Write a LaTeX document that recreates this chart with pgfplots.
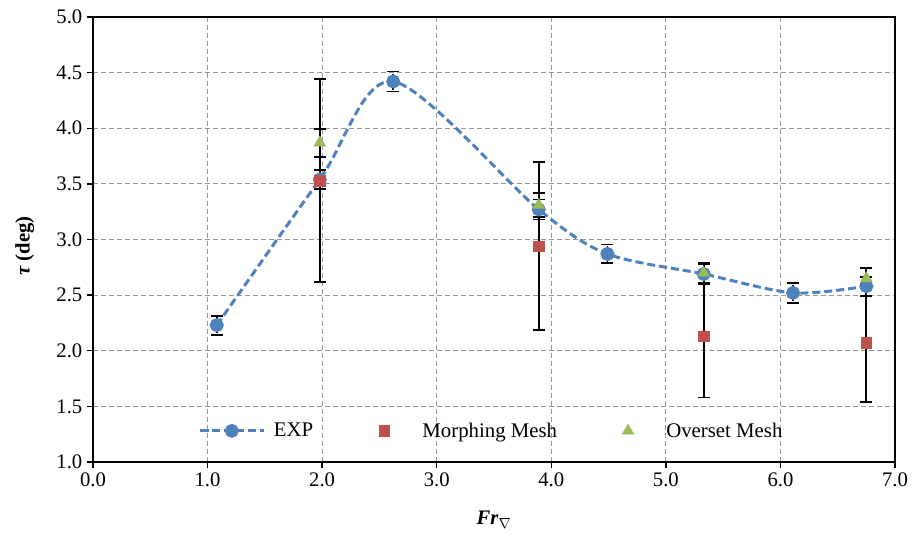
\documentclass[border=0pt]{standalone}
\usepackage{fontspec}
\setmainfont{Liberation Serif}
\usepackage{pgfplots}
\pgfplotsset{compat=1.18}
\definecolor{expblue}{RGB}{79,129,189}
\definecolor{morphred}{RGB}{192,80,77}
\definecolor{overgreen}{RGB}{155,187,89}
\definecolor{gridgray}{RGB}{150,150,150}
\pgfplotsset{
  longline legend/.style={legend image code/.code={%
    \draw[mark repeat=2,mark phase=2,##1] plot coordinates {(0pt,0pt)(24pt,0pt)(48pt,0pt)};}},
  markonly legend/.style={legend image code/.code={%
    \path (0pt,0pt) (48pt,0pt);
    \draw[mark repeat=2,mark phase=2,##1] plot coordinates {(4pt,0pt)(26pt,0pt)(48pt,0pt)};}},
}

\begin{document}
\begin{tikzpicture}
\begin{axis}[
  name=ax,
  scale only axis,
  width=601.5pt, height=333.75pt,
  xmin=0, xmax=7, ymin=1, ymax=5,
  xtick={0,1,...,7}, ytick={1,1.5,...,5},
  xticklabel style={/pgf/number format/.cd,fixed,fixed zerofill,precision=1},
  yticklabel style={/pgf/number format/.cd,fixed,fixed zerofill,precision=1},
  /pgf/number format/assume math mode=true,
  ticklabel style={font=\fontsize{15.5}{18}\selectfont},
  tick align=outside, tick pos=left,
  major tick length=4.5pt,
  tick style={black, line width=1pt},
  axis line style={black, line width=1.2pt},
  grid=major,
  grid style={gridgray, line width=0.8pt, dash pattern=on 3.75pt off 2.25pt},
  xlabel={\textbf{\textit{Fr}}$_{\nabla}$},
  ylabel={\textbf{\textit{τ} (deg)}},
  label style={font=\fontsize{15.5}{18}\selectfont},
  xlabel style={at={(axis description cs:0.5,-0.13)}, anchor=center},
  ylabel style={at={(axis description cs:-0.085,0.485)}, anchor=center},
  error bars/error bar style={black, line width=1.4pt},
  error bars/error mark options={black, line width=1.4pt, mark size=4.5pt, rotate=90},
  legend columns=3,
  legend style={at={(0.131,0.07)}, anchor=west, draw=none, fill=none,
    inner sep=0pt, font=\fontsize{15.6}{18}\selectfont,
    /tikz/every odd column/.append style={column sep=4.5pt},
    /tikz/every even column/.append style={column sep=25pt}},
  clip=false,
]
% EXP
\addplot[expblue, line width=2.25pt, dash pattern=on 6pt off 3pt, smooth,
  mark=*, mark size=4.1pt, mark options={solid, fill=expblue, draw=expblue},
  longline legend,
  error bars/.cd, y dir=both, y explicit]
  coordinates {
    (1.08,2.23) +- (0,0.085)
    (1.98,3.54) +- (0,0.085)
    (2.62,4.42) +- (0,0.09)
    (3.89,3.27) +- (0,0.09)
    (4.49,2.87) +- (0,0.085)
    (5.33,2.69) +- (0,0.09)
    (6.11,2.52) +- (0,0.09)
    (6.75,2.58) +- (0,0.085)
  };
\addlegendentry{EXP}
% Morphing Mesh
\addplot[only marks, mark=square*, mark size=4pt, mark options={fill=morphred, draw=morphred},
  markonly legend,
  error bars/.cd, y dir=both, y explicit]
  coordinates {
    (1.98,3.53) +- (0,0.91)
    (3.89,2.94) +- (0,0.755)
    (5.33,2.13) +- (0,0.55)
    (6.75,2.07) +- (0,0.53)
  };
\addlegendentry{Morphing Mesh}
% Overset Mesh
\addplot[only marks, mark=triangle*, mark size=5pt, mark options={fill=overgreen, draw=overgreen},
  markonly legend,
  error bars/.cd, y dir=both, y explicit]
  coordinates {
    (1.98,3.87) +- (0,0.125)
    (3.89,3.31) +- (0,0.11)
    (5.33,2.70) +- (0,0.09)
    (6.75,2.65) +- (0,0.09)
  };
\addlegendentry{Overset Mesh}
\end{axis}
\pgfresetboundingbox
\useasboundingbox ([xshift=-69.75pt,yshift=-55.5pt]ax.south west) rectangle ([xshift=12.75pt,yshift=12.75pt]ax.north east);
\end{tikzpicture}
\end{document}
